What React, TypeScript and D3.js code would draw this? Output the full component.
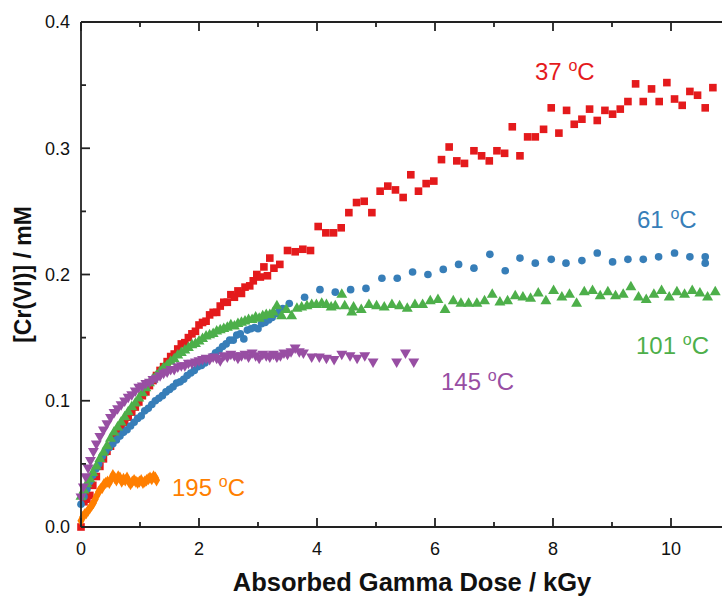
import React from "react";
import * as d3 from "d3";

// [dose kGy, Cr(VI) mM]
const red37: [number, number][] = [
  [0.0, 0.0], [0.05, 0.02], [0.1, 0.022], [0.15, 0.025], [0.2, 0.033], [0.26, 0.04], [0.32, 0.048],
  [0.38, 0.054], [0.44, 0.06], [0.5, 0.064], [0.56, 0.07], [0.62, 0.074], [0.68, 0.079], [0.74, 0.083],
  [0.8, 0.087], [0.86, 0.091], [0.92, 0.095], [0.98, 0.099], [1.04, 0.104], [1.1, 0.107], [1.16, 0.112],
  [1.22, 0.116], [1.28, 0.12], [1.34, 0.124], [1.4, 0.127], [1.46, 0.131], [1.52, 0.135], [1.58, 0.137],
  [1.64, 0.141], [1.7, 0.145], [1.76, 0.146], [1.82, 0.15], [1.88, 0.153], [1.94, 0.155], [2.0, 0.16],
  [2.06, 0.162], [2.12, 0.163], [2.18, 0.168], [2.24, 0.17], [2.3, 0.17], [2.36, 0.175], [2.42, 0.178],
  [2.48, 0.178], [2.54, 0.184], [2.6, 0.182], [2.66, 0.187], [2.72, 0.185], [2.78, 0.19], [2.86, 0.191],
  [2.92, 0.195], [2.98, 0.2], [3.04, 0.198], [3.1, 0.206], [3.16, 0.199], [3.2, 0.213], [3.27, 0.205],
  [3.37, 0.208], [3.5, 0.219], [3.63, 0.218], [3.76, 0.22], [3.89, 0.219], [4.02, 0.238], [4.15, 0.233],
  [4.28, 0.233], [4.41, 0.237], [4.54, 0.249], [4.67, 0.257], [4.8, 0.258], [4.93, 0.249], [5.07, 0.266],
  [5.2, 0.27], [5.33, 0.267], [5.46, 0.261], [5.59, 0.279], [5.72, 0.266], [5.85, 0.272], [5.98, 0.274],
  [6.11, 0.291], [6.24, 0.301], [6.37, 0.29], [6.5, 0.288], [6.66, 0.298], [6.79, 0.294], [6.92, 0.29],
  [7.05, 0.298], [7.18, 0.296], [7.31, 0.317], [7.44, 0.294], [7.57, 0.309], [7.7, 0.309], [7.84, 0.315],
  [7.97, 0.332], [8.1, 0.312], [8.23, 0.33], [8.36, 0.319], [8.49, 0.323], [8.62, 0.331], [8.75, 0.322],
  [8.88, 0.33], [9.01, 0.327], [9.14, 0.331], [9.27, 0.337], [9.4, 0.351], [9.53, 0.337], [9.67, 0.347],
  [9.8, 0.337], [9.93, 0.352], [10.06, 0.339], [10.19, 0.334], [10.32, 0.345], [10.45, 0.342],
  [10.58, 0.332], [10.71, 0.348],
];

const blue61: [number, number][] = [
  [0.0, 0.018], [0.05, 0.024], [0.1, 0.03], [0.15, 0.036], [0.2, 0.041], [0.25, 0.046], [0.3, 0.05],
  [0.36, 0.056], [0.42, 0.06], [0.48, 0.063], [0.54, 0.066], [0.6, 0.069], [0.66, 0.072], [0.72, 0.075],
  [0.78, 0.077], [0.84, 0.08], [0.9, 0.083], [0.96, 0.086], [1.02, 0.088], [1.08, 0.092], [1.14, 0.094],
  [1.2, 0.097], [1.26, 0.1], [1.32, 0.102], [1.38, 0.104], [1.44, 0.107], [1.5, 0.109], [1.56, 0.111],
  [1.62, 0.114], [1.68, 0.115], [1.74, 0.117], [1.8, 0.12], [1.86, 0.122], [1.92, 0.124], [1.98, 0.127],
  [2.04, 0.128], [2.1, 0.13], [2.16, 0.133], [2.22, 0.135], [2.28, 0.138], [2.34, 0.14], [2.4, 0.143],
  [2.46, 0.145], [2.52, 0.148], [2.58, 0.148], [2.64, 0.152], [2.7, 0.153], [2.76, 0.149], [2.82, 0.156],
  [2.88, 0.157], [2.94, 0.158], [3.0, 0.157], [3.06, 0.161], [3.12, 0.162], [3.18, 0.164], [3.24, 0.166],
  [3.3, 0.169], [3.36, 0.171], [3.42, 0.173], [3.53, 0.177], [3.79, 0.182], [4.05, 0.188], [4.31, 0.186],
  [4.57, 0.188], [4.83, 0.189], [5.1, 0.197], [5.36, 0.197], [5.62, 0.202], [5.88, 0.2], [6.14, 0.204],
  [6.4, 0.208], [6.66, 0.205], [6.93, 0.216], [7.19, 0.203], [7.44, 0.213], [7.7, 0.209], [7.97, 0.212],
  [8.22, 0.209], [8.49, 0.211], [8.75, 0.217], [9.01, 0.21], [9.27, 0.212], [9.53, 0.212], [9.79, 0.214],
  [10.06, 0.217], [10.32, 0.214], [10.58, 0.214], [10.58, 0.209],
];

const green101: [number, number][] = [
  [0.0, 0.024], [0.05, 0.029], [0.1, 0.034], [0.15, 0.038], [0.2, 0.043], [0.26, 0.048], [0.32, 0.054],
  [0.38, 0.059], [0.44, 0.064], [0.5, 0.07], [0.56, 0.075], [0.62, 0.079], [0.68, 0.083], [0.74, 0.087],
  [0.8, 0.091], [0.86, 0.095], [0.92, 0.098], [0.98, 0.102], [1.04, 0.106], [1.1, 0.11], [1.16, 0.114],
  [1.22, 0.117], [1.28, 0.12], [1.34, 0.123], [1.4, 0.126], [1.46, 0.128], [1.52, 0.131], [1.58, 0.133],
  [1.64, 0.136], [1.7, 0.138], [1.76, 0.14], [1.82, 0.142], [1.88, 0.144], [1.94, 0.145], [2.0, 0.147],
  [2.06, 0.149], [2.12, 0.151], [2.18, 0.152], [2.24, 0.153], [2.3, 0.155], [2.36, 0.156], [2.42, 0.157],
  [2.48, 0.158], [2.54, 0.16], [2.6, 0.159], [2.66, 0.161], [2.72, 0.162], [2.78, 0.163], [2.84, 0.164],
  [2.9, 0.164], [2.96, 0.166], [3.02, 0.165], [3.08, 0.167], [3.14, 0.168], [3.2, 0.168], [3.26, 0.17],
  [3.32, 0.175], [3.4, 0.167], [3.48, 0.172], [3.57, 0.167], [3.66, 0.173], [3.74, 0.174], [3.83, 0.175],
  [3.91, 0.176], [3.99, 0.176], [4.08, 0.177], [4.16, 0.176], [4.24, 0.174], [4.31, 0.175], [4.42, 0.184],
  [4.47, 0.175], [4.59, 0.17], [4.62, 0.174], [4.75, 0.172], [4.88, 0.176], [5.01, 0.175], [5.14, 0.174],
  [5.27, 0.176], [5.4, 0.175], [5.53, 0.173], [5.66, 0.176], [5.79, 0.176], [5.92, 0.179], [6.05, 0.18],
  [6.17, 0.172], [6.31, 0.179], [6.44, 0.177], [6.57, 0.177], [6.71, 0.177], [6.84, 0.179], [6.97, 0.184],
  [7.1, 0.178], [7.23, 0.179], [7.36, 0.183], [7.49, 0.182], [7.62, 0.181], [7.75, 0.185], [7.88, 0.179],
  [8.01, 0.187], [8.15, 0.182], [8.28, 0.184], [8.4, 0.177], [8.53, 0.186], [8.67, 0.187], [8.8, 0.183],
  [8.93, 0.186], [9.06, 0.183], [9.19, 0.184], [9.32, 0.19], [9.45, 0.182], [9.58, 0.18], [9.71, 0.184],
  [9.84, 0.187], [9.97, 0.182], [10.1, 0.186], [10.23, 0.184], [10.36, 0.187], [10.49, 0.185],
  [10.62, 0.182], [10.75, 0.186],
];

const purple145: [number, number][] = [
  [0.0, 0.024], [0.04, 0.032], [0.08, 0.04], [0.12, 0.047], [0.16, 0.053], [0.21, 0.06], [0.26, 0.066],
  [0.32, 0.072], [0.38, 0.077], [0.44, 0.082], [0.5, 0.087], [0.56, 0.091], [0.62, 0.094], [0.68, 0.097],
  [0.74, 0.1], [0.8, 0.103], [0.86, 0.105], [0.92, 0.108], [0.98, 0.111], [1.04, 0.112], [1.1, 0.114],
  [1.16, 0.115], [1.22, 0.117], [1.28, 0.118], [1.34, 0.12], [1.4, 0.122], [1.46, 0.123], [1.52, 0.125],
  [1.58, 0.125], [1.64, 0.127], [1.7, 0.128], [1.76, 0.128], [1.82, 0.13], [1.88, 0.13], [1.94, 0.131],
  [2.0, 0.132], [2.06, 0.133], [2.12, 0.134], [2.18, 0.133], [2.24, 0.135], [2.3, 0.134], [2.36, 0.132],
  [2.42, 0.136], [2.48, 0.135], [2.54, 0.137], [2.6, 0.136], [2.66, 0.134], [2.72, 0.136], [2.78, 0.137],
  [2.84, 0.135], [2.9, 0.138], [2.96, 0.136], [3.02, 0.134], [3.08, 0.137], [3.14, 0.136], [3.2, 0.135],
  [3.26, 0.137], [3.32, 0.135], [3.38, 0.136], [3.44, 0.138], [3.5, 0.137], [3.56, 0.139], [3.63, 0.142],
  [3.7, 0.139], [3.77, 0.138], [3.91, 0.135], [4.04, 0.135], [4.16, 0.134], [4.29, 0.133], [4.42, 0.137],
  [4.56, 0.136], [4.68, 0.134], [4.81, 0.136], [4.95, 0.131], [5.35, 0.131], [5.5, 0.138], [5.64, 0.131],
];

const orange195: [number, number][] = [
  [0.0, 0.005], [0.03, 0.008], [0.06, 0.01], [0.09, 0.011], [0.12, 0.013], [0.15, 0.015], [0.18, 0.017],
  [0.21, 0.019], [0.24, 0.022], [0.27, 0.025], [0.3, 0.028], [0.33, 0.03], [0.36, 0.031], [0.39, 0.034],
  [0.42, 0.035], [0.45, 0.036], [0.48, 0.035], [0.51, 0.038], [0.54, 0.041], [0.57, 0.039], [0.6, 0.037],
  [0.63, 0.04], [0.66, 0.039], [0.69, 0.036], [0.72, 0.038], [0.75, 0.037], [0.78, 0.039], [0.81, 0.036],
  [0.84, 0.034], [0.87, 0.036], [0.9, 0.037], [0.93, 0.036], [0.96, 0.035], [0.99, 0.036], [1.02, 0.037],
  [1.05, 0.035], [1.08, 0.036], [1.11, 0.037], [1.14, 0.038], [1.17, 0.039], [1.2, 0.038], [1.23, 0.04],
  [1.26, 0.039], [1.28, 0.037],
];

const xMajor = [0, 2, 4, 6, 8, 10];
const xMinor = [1, 3, 5, 7, 9];
const yMajor = [0, 0.1, 0.2, 0.3, 0.4];
const yMinor = [0.05, 0.15, 0.25, 0.35];

const W = 722;
const H = 596;
const font = "Liberation Sans, Arial, sans-serif";

const x = d3.scaleLinear().domain([0, 11]).range([81, 730]);
const y = d3.scaleLinear().domain([0, 0.4]).range([527, 22]);

const series = [
  { name: "37", data: red37, color: "#e41a1c", shape: d3.symbolSquare, size: 58, rot: 0, lx: 535, ly: 80 },
  { name: "61", data: blue61, color: "#377eb8", shape: d3.symbolCircle, size: 46, rot: 0, lx: 637, ly: 228 },
  { name: "101", data: green101, color: "#4daf4a", shape: d3.symbolTriangle, size: 52, rot: 0, lx: 636, ly: 354 },
  { name: "145", data: purple145, color: "#984ea3", shape: d3.symbolTriangle, size: 52, rot: 180, lx: 441, ly: 390 },
  { name: "195", data: orange195, color: "#ff7f00", shape: d3.symbolDiamond, size: 44, rot: 0, lx: 172, ly: 496 },
];

export default function App() {
  const axisColor = "#222";
  return (
    <svg
      width={W}
      height={H}
      style={{ position: "absolute", left: 0, top: 0, background: "#fff" }}
      fontFamily={font}
    >
      {series.map((s) => {
        const p = d3.symbol().type(s.shape).size(s.size)() as string;
        return (
          <g key={s.name} fill={s.color}>
            {s.data.map((d, i) => (
              <path key={i} d={p} transform={`translate(${x(d[0])},${y(d[1])}) rotate(${s.rot})`} />
            ))}
          </g>
        );
      })}

      {/* frame */}
      <g stroke={axisColor} strokeWidth={1.8} fill="none">
        <line x1={x(0)} x2={W} y1={y(0)} y2={y(0)} />
        <line x1={x(0)} x2={W} y1={y(0.4)} y2={y(0.4)} />
        <line x1={x(0)} x2={x(0)} y1={y(0)} y2={y(0.4)} />
        {xMajor.map((t) => (
          <g key={"xm" + t}>
            <line x1={x(t)} x2={x(t)} y1={y(0)} y2={y(0) - 9} />
            <line x1={x(t)} x2={x(t)} y1={y(0.4)} y2={y(0.4) + 9} />
          </g>
        ))}
        {xMinor.map((t) => (
          <g key={"xn" + t}>
            <line x1={x(t)} x2={x(t)} y1={y(0)} y2={y(0) - 5} />
            <line x1={x(t)} x2={x(t)} y1={y(0.4)} y2={y(0.4) + 5} />
          </g>
        ))}
        {yMajor.map((t) => (
          <line key={"ym" + t} x1={x(0)} x2={x(0) + 9} y1={y(t)} y2={y(t)} />
        ))}
        {yMinor.map((t) => (
          <line key={"yn" + t} x1={x(0)} x2={x(0) + 5} y1={y(t)} y2={y(t)} />
        ))}
      </g>

      {/* tick labels */}
      <g fontSize={18} fill="#111">
        {xMajor.map((t) => (
          <text key={"xl" + t} x={x(t)} y={555} textAnchor="middle">
            {t}
          </text>
        ))}
        {yMajor.map((t) => (
          <text key={"yl" + t} x={70} y={y(t)} dy="0.35em" textAnchor="end">
            {d3.format(".1f")(t)}
          </text>
        ))}
      </g>

      {/* axis titles */}
      <text x={412} y={591} textAnchor="middle" fontSize={25.5} fontWeight="bold" fill="#111">
        Absorbed Gamma Dose / kGy
      </text>
      <text
        transform={`translate(31,${(y(0) + y(0.4)) / 2}) rotate(-90)`}
        textAnchor="middle"
        fontSize={23}
        fontWeight="bold"
        fill="#111"
      >
        [Cr(VI)] / mM
      </text>

      {/* series labels */}
      {series.map((s) => (
        <text key={"lab" + s.name} x={s.lx} y={s.ly} fontSize={24} fill={s.color}>
          {s.name + " "}
          <tspan fontSize={16} dy={-9}>o</tspan>
          <tspan dy={9}>C</tspan>
        </text>
      ))}
    </svg>
  );
}
